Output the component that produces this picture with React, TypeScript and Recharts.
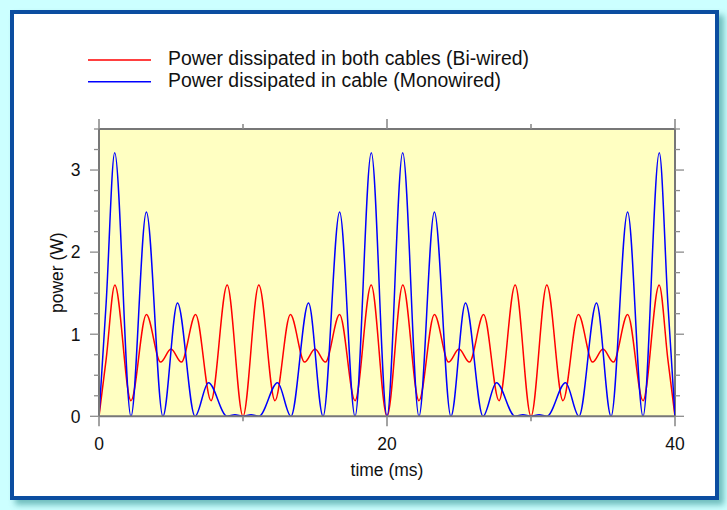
import React from 'react';
import { LineChart, Line, XAxis, YAxis, CartesianGrid, ReferenceLine } from 'recharts';

// ---- data ----
const biTimes = [
  0, 0.5, 1.1, 2.22, 3.29, 4.28, 5.0, 5.72, 6.71, 7.78, 8.9,
  10, 11.1, 12.22, 13.29, 14.28, 15.0, 15.72, 16.71, 17.78, 18.9,
  20, 21.1, 22.22, 23.29, 24.28, 25.0, 25.72, 26.71, 27.78, 28.9,
  30, 31.1, 32.22, 33.29, 34.28, 35.0, 35.72, 36.71, 37.78, 38.9, 39.5, 40,
];
const biPower = [
  0, 0.7, 1.6, 0.19, 1.24, 0.66, 0.82, 0.66, 1.24, 0.19, 1.6,
  0, 1.6, 0.19, 1.24, 0.66, 0.82, 0.66, 1.24, 0.19, 1.6,
  0, 1.6, 0.19, 1.24, 0.66, 0.82, 0.66, 1.24, 0.19, 1.6,
  0, 1.6, 0.19, 1.24, 0.66, 0.82, 0.66, 1.24, 0.19, 1.6, 0.7, 0,
];
const monoTimes = [
  0, 0.5, 1.09, 2.22, 3.29, 4.44, 5.45, 6.67, 7.6, 8.89, 9.44,
  10, 10.56, 11.11, 12.4, 13.33, 14.55, 15.56, 16.71, 17.78, 18.91,
  20, 21.09, 22.22, 23.29, 24.44, 25.45, 26.67, 27.6, 28.89, 29.44,
  30, 30.56, 31.11, 32.4, 33.33, 34.55, 35.56, 36.71, 37.78, 38.91, 39.5, 40,
];
const monoPower = [
  0, 1.39, 3.21, 0, 2.49, 0, 1.38, 0, 0.41, 0, 0.02,
  0, 0.02, 0, 0.41, 0, 1.38, 0, 2.49, 0, 3.21,
  0, 3.21, 0, 2.49, 0, 1.38, 0, 0.41, 0, 0.02,
  0, 0.02, 0, 0.41, 0, 1.38, 0, 2.49, 0, 3.21, 1.39, 0,
];
const xTicks = [0, 10, 20, 30, 40];
const xTickLabels = ['0', '', '20', '', '40'];
const yTicks = [0, 0.25, 0.5, 0.75, 1, 1.25, 1.5, 1.75, 2, 2.25, 2.5, 2.75, 3, 3.25, 3.5];
const yMajor = [0, 1, 2, 3];
const seriesNames = ['Power dissipated in both cables (Bi-wired)', 'Power dissipated in cable (Monowired)'];
const seriesColors = ['#ff0000', '#0000ff'];

const biData = biTimes.map((t, i) => ({ t, p: biPower[i] }));
const monoData = monoTimes.map((t, i) => ({ t, p: monoPower[i] }));

// ---- layout ----
const W = 727;
const H = 510;
const AXW = 1;
const M = { top: 129, right: 52, bottom: 93.7 - AXW, left: 99 - AXW };
const plotTop = M.top;
const plotRight = W - M.right;
const FONT = "'Liberation Sans', Arial, Helvetica, sans-serif";
const tickColor = '#8c8c8c';
const axisColor = '#777777';

const XTick = (props: any) => {
  const { x, y, payload } = props;
  const v = payload.value;
  const idx = xTicks.indexOf(v);
  const label = idx >= 0 ? xTickLabels[idx] : '';
  const len = label ? 10 : 5;
  return (
    <g>
      <line x1={x} x2={x} y1={y} y2={y + len} stroke={tickColor} strokeWidth={1.6} />
      <line x1={x} x2={x} y1={plotTop} y2={plotTop - len} stroke={tickColor} strokeWidth={1.6} />
      {label ? (
        <text x={x} y={y + 33.5} textAnchor="middle" fontSize={17.5} fontFamily={FONT} fill="#111">
          {label}
        </text>
      ) : null}
    </g>
  );
};

const YTick = (props: any) => {
  const { x, y, payload } = props;
  const v = payload.value;
  const major = yMajor.indexOf(v) >= 0;
  const len = major ? 9 : 5;
  return (
    <g>
      <line x1={x} x2={x - len} y1={y} y2={y} stroke={tickColor} strokeWidth={1.3} />
      <line x1={plotRight} x2={plotRight + len} y1={y} y2={y} stroke={tickColor} strokeWidth={1.3} />
      {major ? (
        <text x={x - 18.5} y={y} dy="0.36em" textAnchor="end" fontSize={17.5} fontFamily={FONT} fill="#111">
          {String(v)}
        </text>
      ) : null}
    </g>
  );
};

const XLabel = (props: any) => {
  const vb = props.viewBox || {};
  return (
    <text x={vb.x + vb.width / 2} y={vb.y + 60} textAnchor="middle" fontSize={17.5} fontFamily={FONT} fill="#111">
      time (ms)
    </text>
  );
};

const YLabel = (props: any) => {
  const vb = props.viewBox || {};
  const cx = vb.x + vb.width - 36;
  const cy = vb.y + vb.height / 2;
  return (
    <text x={cx} y={cy} transform={`rotate(-90 ${cx} ${cy})`} textAnchor="middle" fontSize={17.5} fontFamily={FONT} fill="#111">
      power (W)
    </text>
  );
};

const LegendBox = () => (
  <svg width={W} height={110} style={{ position: 'absolute', left: 0, top: 0 }}>
    {seriesNames.map((name, i) => (
      <g key={name}>
        <line x1={88} x2={151} y1={60 + i * 21.7} y2={60 + i * 21.7} stroke={seriesColors[i]} strokeWidth={1.4} />
        <text x={168} y={64.8 + i * 21.7} fontSize={19.4} fontFamily={FONT} fill="#111">
          {name}
        </text>
      </g>
    ))}
  </svg>
);

export default function App() {
  return (
    <div style={{ position: 'absolute', left: 0, top: 0, width: W, height: H, background: '#ccffff', overflow: 'hidden' }}>
      <div
        style={{
          position: 'absolute',
          left: 10,
          top: 9.5,
          width: 709,
          height: 490,
          boxSizing: 'border-box',
          border: '4px solid #0b4da0',
          background: '#ffffff',
          boxShadow: '5px 5px 6px rgba(0, 110, 110, 0.45)',
        }}
      />
      <div style={{ position: 'absolute', left: 0, top: 0 }}>
        <LineChart width={W} height={H} margin={M}>
          <CartesianGrid horizontal={false} vertical={false} fill="#ffffc2" stroke="none" />
          <XAxis
            dataKey="t"
            type="number"
            domain={[0, 40]}
            ticks={xTicks}
            interval={0}
            height={AXW}
            tickSize={0}
            tickMargin={0}
            tickLine={false}
            axisLine={{ stroke: axisColor, strokeWidth: 2 }}
            tick={<XTick />}
            label={<XLabel />}
            allowDataOverflow
          />
          <YAxis
            type="number"
            domain={[0, 3.5]}
            ticks={yTicks}
            interval={0}
            width={AXW}
            tickSize={0}
            tickMargin={0}
            tickLine={false}
            axisLine={{ stroke: axisColor, strokeWidth: 2 }}
            tick={<YTick />}
            label={<YLabel />}
            allowDataOverflow
          />
          <ReferenceLine y={3.5} stroke={axisColor} strokeWidth={2} />
          <ReferenceLine x={40} stroke={axisColor} strokeWidth={2} />
          <Line data={biData} dataKey="p" type="monotone" stroke={seriesColors[0]} strokeWidth={1.5} dot={false} isAnimationActive={false} />
          <Line data={monoData} dataKey="p" type="monotone" stroke={seriesColors[1]} strokeWidth={1.5} dot={false} isAnimationActive={false} />
        </LineChart>
      </div>
      <LegendBox />
    </div>
  );
}
